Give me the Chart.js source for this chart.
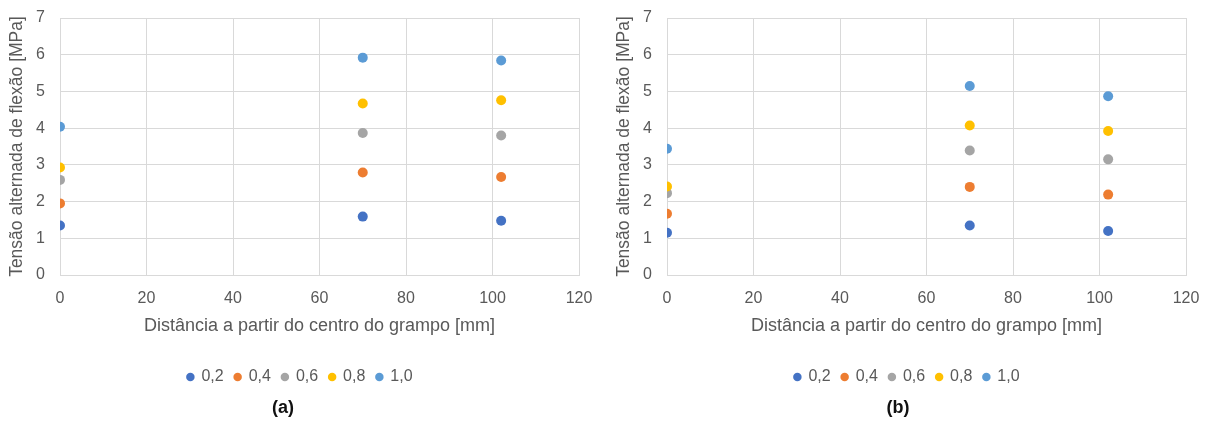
<!DOCTYPE html>
<html>
<head>
<meta charset="utf-8">
<script src="https://cdn.jsdelivr.net/npm/chart.js@4.4.1/dist/chart.umd.min.js"></script>
<style>
  html, body { margin: 0; padding: 0; background: #ffffff; }
  body { width: 1207px; height: 423px; position: relative; overflow: hidden; }
  .panel { position: absolute; top: 0; width: 600px; height: 423px; }
  .tag { position: absolute; top: 397px; width: 100px; text-align: center;
         font: bold 18px "Liberation Sans", Arial, sans-serif; color: #111; }
</style>
</head>
<body>
<div class="panel" style="left:0"><canvas id="chartA" width="600" height="423"></canvas></div>
<div class="panel" style="left:607px"><canvas id="chartB" width="600" height="423"></canvas></div>
<div class="tag" style="left:233px">(a)</div>
<div class="tag" style="left:848px">(b)</div>
<script>
// ---- data ----
const distances = [0, 70, 102];
const seriesNames = ['0,2', '0,4', '0,6', '0,8', '1,0'];
const seriesColors = ['#4472C4', '#ED7D31', '#A5A5A5', '#FFC000', '#5B9BD5'];

const a_02 = [1.35, 1.59, 1.48];
const a_04 = [1.95, 2.79, 2.67];
const a_06 = [2.59, 3.87, 3.80];
const a_08 = [2.93, 4.67, 4.76];
const a_10 = [4.04, 5.92, 5.84];

const b_02 = [1.15, 1.35, 1.20];
const b_04 = [1.67, 2.40, 2.19];
const b_06 = [2.23, 3.39, 3.15];
const b_08 = [2.41, 4.07, 3.92];
const b_10 = [3.44, 5.15, 4.87];

const xTicks = [0, 20, 40, 60, 80, 100, 120];
const yTicks = [0, 1, 2, 3, 4, 5, 6, 7];
const xTitle = 'Distância a partir do centro do grampo [mm]';
const yTitle = 'Tensão alternada de flexão [MPa]';

// ---- chart builder ----
const FONT = '"Liberation Sans", Arial, sans-serif';
const TXT = '#595959';
const GRID = '#D9D9D9';

function makeChart(id, seriesList) {
  const datasets = seriesList.map((vals, i) => ({
    label: seriesNames[i],
    data: distances.map((x, j) => ({ x: x, y: vals[j] })),
    backgroundColor: seriesColors[i],
    borderColor: seriesColors[i],
    pointRadius: 5,
    pointHoverRadius: 5,
    pointBorderWidth: 0,
    showLine: false,
    order: seriesList.length - i
  }));
  return new Chart(document.getElementById(id), {
    type: 'scatter',
    data: { datasets },
    options: {
      responsive: false,
      animation: false,
      layout: { padding: { top: 18, right: 21, bottom: 28, left: 21 } },
      plugins: {
        tooltip: { enabled: false },
        legend: {
          position: 'bottom',
          labels: {
            usePointStyle: true,
            pointStyle: 'circle',
            boxWidth: 6,
            boxHeight: 6,
            padding: 11,
            color: TXT,
            font: { family: FONT, size: 16 },
            sort: (p, q) => p.datasetIndex - q.datasetIndex
          }
        }
      },
      scales: {
        x: {
          type: 'linear',
          min: 0, max: 120,
          afterBuildTicks: s => { s.ticks = xTicks.map(v => ({ value: v })); },
          afterFit: s => { s.height = 83; s.paddingLeft = 0; s.paddingRight = 0; },
          ticks: { color: TXT, font: { family: FONT, size: 16 }, padding: 14, maxRotation: 0 },
          grid: { color: GRID, drawTicks: false, lineWidth: 1 },
          border: { color: GRID },
          title: { display: true, text: xTitle, color: TXT,
                   font: { family: FONT, size: 18 }, padding: { top: 0, bottom: 21 } }
        },
        y: {
          type: 'linear',
          min: 0, max: 7,
          afterBuildTicks: s => { s.ticks = yTicks.map(v => ({ value: v })); },
          afterFit: s => { s.width = 39; s.paddingTop = 0; s.paddingBottom = 0; },
          ticks: { color: TXT, font: { family: FONT, size: 16 }, padding: 15 },
          grid: { color: GRID, drawTicks: false, lineWidth: 1 },
          border: { color: GRID },
          title: { display: true, text: yTitle, color: TXT,
                   font: { family: FONT, size: 17.5 }, padding: { top: -14, bottom: 0 } }
        }
      }
    }
  });
}

makeChart('chartA', [a_02, a_04, a_06, a_08, a_10]);
makeChart('chartB', [b_02, b_04, b_06, b_08, b_10]);
</script>
</body>
</html>
